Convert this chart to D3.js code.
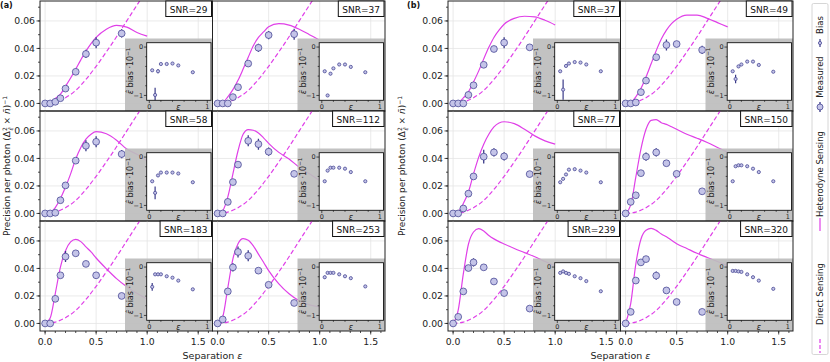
<!DOCTYPE html>
<html>
<head>
<meta charset="utf-8">
<script src="https://cdn.jsdelivr.net/npm/d3@7"></script>
<style>
body { margin: 0; background: #fff; }
svg { font-family: "DejaVu Sans", sans-serif; }
</style>
</head>
<body>
<svg id="chart" width="830" height="362"></svg>
<script>
// separations where things were measured / computed
const epsMeas = [0, 0.05, 0.1, 0.15, 0.2, 0.3, 0.4, 0.5, 0.75];
const epsBias = [0.05, 0.1, 0.15, 0.2, 0.3, 0.4, 0.5, 0.75];
const epsCurve = [0, 0.05, 0.1, 0.15, 0.2, 0.25, 0.3, 0.35, 0.4, 0.45, 0.5, 0.6, 0.7, 0.8, 0.9, 1.0];
const epsDirect = [0, 0.1, 0.2, 0.3, 0.4, 0.5, 0.6, 0.7, 0.8, 0.9, 1.0];

// direct sensing bound (same in every subplot)
const directSensing = [0, 0.001, 0.0042, 0.0095, 0.0175, 0.027, 0.0375, 0.0485, 0.06, 0.0715, 0.083];

// panel (a)
const snrA = [29, 37, 58, 112, 183, 253];
const hetA = [
    [0, 0.0005, 0.0036, 0.0067, 0.0125, 0.0185, 0.025, 0.0317, 0.038, 0.0435, 0.048, 0.054, 0.0568, 0.0555, 0.0516, 0.049],
    [0, 0.0007, 0.0048, 0.010, 0.0168, 0.025, 0.0336, 0.042, 0.048, 0.052, 0.0557, 0.058, 0.057, 0.054, 0.050, 0.046],
    [0, 0.0008, 0.0043, 0.0108, 0.0192, 0.0288, 0.0396, 0.048, 0.054, 0.0576, 0.0595, 0.058, 0.0533, 0.0468, 0.043, 0.038],
    [0, 0.002, 0.012, 0.0288, 0.0456, 0.0576, 0.061, 0.0605, 0.0585, 0.055, 0.051, 0.0444, 0.0396, 0.0336, 0.0288, 0.024],
    [0, 0.004, 0.0219, 0.041, 0.0529, 0.0593, 0.0612, 0.0595, 0.0557, 0.052, 0.0476, 0.0398, 0.0326, 0.0267, 0.0219, 0.0176],
    [0, 0.0048, 0.026, 0.047, 0.058, 0.0617, 0.0605, 0.0564, 0.0504, 0.0445, 0.0384, 0.0288, 0.0216, 0.0165, 0.0135, 0.012]
];
const measA = [
    [0, 0, 0.0012, 0.0038, 0.0108, 0.023, 0.036, 0.0442, 0.0509],
    [0, 0, 0, 0.0046, 0.0118, 0.029, 0.0405, 0.0497, 0.0504],
    [0, 0, 0.0005, 0.0096, 0.0204, 0.0384, 0.0492, 0.0521, 0.0432],
    [0, 0, 0.0084, 0.0228, 0.0355, 0.0528, 0.0504, 0.0449, 0.0288],
    [0, 0, 0.0179, 0.035, 0.0486, 0.051, 0.0433, 0.035, 0.02],
    [0, 0.0029, 0.0233, 0.0408, 0.052, 0.0492, 0.0384, 0.0281, 0.0149]
];
const measErrA = [
    [0, 0, 0.0005, 0.0008, 0.001, 0.001, 0.003, 0.004, 0.003],
    [0, 0, 0, 0.001, 0.001, 0.002, 0.003, 0.003, 0.004],
    [0, 0, 0, 0.001, 0.001, 0.001, 0.004, 0.004, 0.003],
    [0, 0, 0.001, 0.001, 0.002, 0.004, 0.004, 0.003, 0.001],
    [0, 0, 0.001, 0.002, 0.004, 0.002, 0.001, 0.002, 0.001],
    [0, 0.001, 0.001, 0.003, 0.004, 0.004, 0.001, 0.001, 0.001]
];
const biasA = [
    [-0.48, -0.99, -0.50, -0.35, -0.35, -0.34, -0.38, -0.52],
    [-0.50, -1.0, -0.55, -0.44, -0.36, -0.36, -0.41, -0.52],
    [-0.50, -0.74, -0.38, -0.32, -0.32, -0.32, -0.34, -0.52],
    [-0.50, -0.28, -0.22, -0.22, -0.22, -0.24, -0.31, -0.50],
    [-0.41, -0.15, -0.15, -0.15, -0.19, -0.22, -0.28, -0.46],
    [-0.21, -0.12, -0.12, -0.12, -0.15, -0.19, -0.23, -0.40]
];
const biasErrA = [
    [0.02, 0.15, 0.04, 0.02, 0.02, 0.02, 0.02, 0.02],
    [0.02, 0.03, 0.03, 0.02, 0.02, 0.02, 0.02, 0.02],
    [0.02, 0.13, 0.02, 0.02, 0.02, 0.02, 0.02, 0.02],
    [0.02, 0.02, 0.02, 0.02, 0.02, 0.02, 0.02, 0.02],
    [0.08, 0.02, 0.02, 0.02, 0.02, 0.02, 0.02, 0.02],
    [0.03, 0.02, 0.02, 0.02, 0.02, 0.02, 0.02, 0.02]
];

// panel (b)
const snrB = [37, 49, 77, 150, 239, 320];
const hetB = [
    [0, 0.0005, 0.004, 0.0084, 0.0156, 0.0235, 0.0324, 0.0408, 0.048, 0.0533, 0.0576, 0.0619, 0.0634, 0.0629, 0.0605, 0.0571],
    [0, 0.0007, 0.0048, 0.0108, 0.0192, 0.0288, 0.0384, 0.0468, 0.0533, 0.058, 0.0612, 0.0643, 0.0643, 0.0619, 0.0588, 0.0557],
    [0, 0.0012, 0.0072, 0.0156, 0.0288, 0.0408, 0.0504, 0.0576, 0.0629, 0.0658, 0.0667, 0.0653, 0.0612, 0.0564, 0.0528, 0.0504],
    [0, 0.006, 0.0264, 0.0468, 0.0612, 0.0677, 0.0682, 0.066, 0.0648, 0.063, 0.0612, 0.0576, 0.0547, 0.0516, 0.048, 0.0444],
    [0, 0.0096, 0.036, 0.0576, 0.0665, 0.0689, 0.0672, 0.064, 0.0615, 0.0595, 0.0578, 0.0545, 0.0515, 0.0485, 0.045, 0.0418],
    [0, 0.0144, 0.0432, 0.0612, 0.0677, 0.0691, 0.0677, 0.065, 0.063, 0.0605, 0.058, 0.0545, 0.051, 0.048, 0.045, 0.042]
];
const measB = [
    [0, 0, 0, 0.0062, 0.0132, 0.0281, 0.0396, 0.0442, 0.0408],
    [0, 0, 0.0007, 0.0082, 0.0166, 0.0336, 0.0425, 0.0432, 0.0389],
    [0, 0, 0.0036, 0.0144, 0.0269, 0.0413, 0.0444, 0.0415, 0.0286],
    [0, 0.0084, 0.0132, 0.0293, 0.0413, 0.0444, 0.0365, 0.0288, 0.0161],
    [0, 0.0048, 0.0233, 0.0403, 0.0444, 0.0408, 0.0305, 0.0221, 0.0108],
    [0, 0.0084, 0.0312, 0.0444, 0.0468, 0.0348, 0.024, 0.0156, 0.0084]
];
const measErrB = [
    [0, 0, 0, 0.001, 0.001, 0.001, 0.002, 0.004, 0.001],
    [0, 0, 0, 0.001, 0.001, 0.001, 0.004, 0.001, 0.003],
    [0, 0, 0.001, 0.001, 0.001, 0.005, 0.003, 0.003, 0.001],
    [0, 0.001, 0.001, 0.001, 0.003, 0.003, 0.001, 0.001, 0.001],
    [0, 0.001, 0.001, 0.001, 0.003, 0.002, 0.001, 0.001, 0.001],
    [0, 0.001, 0.001, 0.001, 0.001, 0.003, 0.001, 0.001, 0.001]
];
const biasB = [
    [-0.50, -0.88, -0.39, -0.34, -0.31, -0.32, -0.36, -0.50],
    [-0.50, -0.66, -0.40, -0.36, -0.30, -0.30, -0.37, -0.51],
    [-0.52, -0.45, -0.36, -0.26, -0.25, -0.28, -0.32, -0.52],
    [-0.50, -0.19, -0.17, -0.17, -0.19, -0.24, -0.31, -0.50],
    [-0.12, -0.09, -0.12, -0.14, -0.19, -0.23, -0.29, -0.50],
    [-0.08, -0.08, -0.09, -0.10, -0.15, -0.21, -0.28, -0.45]
];
const biasErrB = [
    [0.02, 0.21, 0.02, 0.02, 0.02, 0.02, 0.02, 0.02],
    [0.02, 0.09, 0.03, 0.02, 0.02, 0.02, 0.02, 0.02],
    [0.02, 0.02, 0.02, 0.02, 0.02, 0.02, 0.02, 0.02],
    [0.02, 0.02, 0.02, 0.02, 0.02, 0.02, 0.02, 0.02],
    [0.02, 0.02, 0.02, 0.02, 0.02, 0.02, 0.02, 0.02],
    [0.02, 0.02, 0.02, 0.02, 0.02, 0.02, 0.02, 0.02]
];

const xTicks = [0, 0.5, 1.0, 1.5];
const yTicks = [0, 0.02, 0.04, 0.06];

const MAGENTA = '#e040e8';
const MARK_FILL = '#c4c4e8';
const MARK_STROKE = '#4a4a96';
const ERR = '#3a3a88';
const SPINE = '#222';

const svg = d3.select('#chart');
const colW = 172.5;
const rowH = 110;
const top0 = 1;

const panels = [
    {left: 40, tag: '(a)', tagX: 0, yLabX: 10, snr: snrA, het: hetA, meas: measA, measErr: measErrA, bias: biasA, biasErr: biasErrA},
    {left: 448, tag: '(b)', tagX: 407, yLabX: 405, snr: snrB, het: hetB, meas: measB, measErr: measErrB, bias: biasB, biasErr: biasErrB}
];

let clipId = 0;

function drawSubplot(p, i) {
    const r = Math.floor(i / 2);
    const c = i % 2;
    const x0 = p.left + c * colW;
    const y0 = top0 + r * rowH;

    const x = d3.scaleLinear().domain([-0.05, 1.64]).range([x0, x0 + colW]);
    const y = d3.scaleLinear().domain([-0.0055, 0.0745]).range([y0 + rowH, y0]);

    const g = svg.append('g');
    const cid = 'clip' + (clipId++);
    g.append('clipPath').attr('id', cid)
        .append('rect').attr('x', x0).attr('y', y0).attr('width', colW).attr('height', rowH);
    const inner = g.append('g').attr('clip-path', `url(#${cid})`);

    // grid
    inner.selectAll('.gx').data(xTicks).enter().append('line')
        .attr('x1', d => x(d)).attr('x2', d => x(d))
        .attr('y1', y0).attr('y2', y0 + rowH)
        .attr('stroke', '#e4e4e4').attr('stroke-width', 0.8);
    inner.selectAll('.gy').data(yTicks).enter().append('line')
        .attr('x1', x0).attr('x2', x0 + colW)
        .attr('y1', d => y(d)).attr('y2', d => y(d))
        .attr('stroke', '#e4e4e4').attr('stroke-width', 0.8);

    // curves
    const line = d3.line().x(d => x(d[0])).y(d => y(d[1])).curve(d3.curveMonotoneX);
    inner.append('path')
        .attr('d', line(d3.zip(epsDirect, directSensing)))
        .attr('fill', 'none').attr('stroke', MAGENTA).attr('stroke-width', 1.2)
        .attr('stroke-dasharray', '4.5,2.5');
    inner.append('path')
        .attr('d', line(d3.zip(epsCurve, p.het[i])))
        .attr('fill', 'none').attr('stroke', MAGENTA).attr('stroke-width', 1.2);

    // measured points with errors
    const pts = epsMeas.map((e, k) => ({e, v: p.meas[i][k], s: p.measErr[i][k]}));
    inner.selectAll('.err').data(pts).enter().append('line')
        .attr('x1', d => x(d.e)).attr('x2', d => x(d.e))
        .attr('y1', d => y(d.v - d.s)).attr('y2', d => y(d.v + d.s))
        .attr('stroke', ERR).attr('stroke-width', 1.3);
    inner.selectAll('.pt').data(pts).enter().append('circle')
        .attr('cx', d => x(d.e)).attr('cy', d => y(d.v)).attr('r', 3.4)
        .attr('fill', MARK_FILL).attr('stroke', MARK_STROKE).attr('stroke-width', 0.8);

    // inset background
    g.append('rect')
        .attr('x', x0 + 85).attr('y', y0 + 37.5)
        .attr('width', colW - 85).attr('height', rowH - 37.5)
        .attr('fill', '#bdbdbd').attr('fill-opacity', 0.92);

    drawInset(g, x0, y0, p.bias[i], p.biasErr[i]);

    // spines
    g.append('rect').attr('x', x0).attr('y', y0).attr('width', colW).attr('height', rowH)
        .attr('fill', 'none').attr('stroke', SPINE).attr('stroke-width', 1);

    // SNR box
    const bt = g.append('text').text('SNR=' + p.snr[i])
        .attr('font-size', 9).attr('text-anchor', 'end')
        .attr('x', x0 + colW - 5).attr('y', y0 + 11.5).attr('fill', '#111');
    const tw = bt.node().getComputedTextLength();
    g.append('rect')
        .attr('x', x0 + colW - 9 - tw).attr('y', y0)
        .attr('width', tw + 8).attr('height', 15.5)
        .attr('fill', '#fff').attr('stroke', '#111').attr('stroke-width', 1);
    bt.raise();

    // left axis
    if (c === 0) {
        const minor = d3.range(0, 0.0745, 0.01);
        g.selectAll('.ym').data(minor).enter().append('line')
            .attr('x1', x0 - 2).attr('x2', x0)
            .attr('y1', d => y(d)).attr('y2', d => y(d))
            .attr('stroke', SPINE).attr('stroke-width', 0.8);
        g.selectAll('.yt').data(yTicks).enter().append('line')
            .attr('x1', x0 - 3.5).attr('x2', x0)
            .attr('y1', d => y(d)).attr('y2', d => y(d))
            .attr('stroke', SPINE).attr('stroke-width', 0.8);
        g.selectAll('.yl').data(yTicks).enter().append('text')
            .attr('x', x0 - 5).attr('y', d => y(d) + 3.3)
            .attr('text-anchor', 'end').attr('font-size', 9.3).attr('fill', '#222')
            .text(d => d3.format('.2f')(d));
    }
    // bottom axis
    if (r === 2) {
        const minor = d3.range(0, 1.64, 0.1);
        g.selectAll('.xm').data(minor).enter().append('line')
            .attr('x1', d => x(d)).attr('x2', d => x(d))
            .attr('y1', y0 + rowH).attr('y2', y0 + rowH + 2)
            .attr('stroke', SPINE).attr('stroke-width', 0.8);
        g.selectAll('.xt').data(xTicks).enter().append('line')
            .attr('x1', d => x(d)).attr('x2', d => x(d))
            .attr('y1', y0 + rowH).attr('y2', y0 + rowH + 3.5)
            .attr('stroke', SPINE).attr('stroke-width', 0.8);
        g.selectAll('.xl').data(xTicks).enter().append('text')
            .attr('x', d => x(d)).attr('y', y0 + rowH + 14)
            .attr('text-anchor', 'middle').attr('font-size', 9.3).attr('fill', '#222')
            .text(d => d3.format('.1f')(d));
    }
}

function drawInset(g, x0, y0, bias, biasErr) {
    const ix = d3.scaleLinear().domain([-0.045, 1.064]).range([x0 + 106.7, x0 + 171]);
    const iy = d3.scaleLinear().domain([-1.1, 0.09]).range([y0 + 99.3, y0 + 41.7]);
    const [xa, xb] = ix.range();
    const [yb, ya] = iy.range();

    g.append('rect').attr('x', xa).attr('y', ya).attr('width', xb - xa).attr('height', yb - ya)
        .attr('fill', '#fff');

    const pts = epsBias.map((e, k) => ({e, v: bias[k], s: biasErr[k]}));
    g.selectAll('.berr').data(pts).enter().append('line')
        .attr('x1', d => ix(d.e)).attr('x2', d => ix(d.e))
        .attr('y1', d => iy(Math.max(d.v - d.s, -1.1))).attr('y2', d => iy(d.v + d.s))
        .attr('stroke', ERR).attr('stroke-width', 1.2);
    g.selectAll('.bpt').data(pts).enter().append('circle')
        .attr('cx', d => ix(d.e)).attr('cy', d => iy(d.v)).attr('r', 1.6)
        .attr('fill', MARK_FILL).attr('stroke', MARK_STROKE).attr('stroke-width', 0.8);

    g.append('rect').attr('x', xa).attr('y', ya).attr('width', xb - xa).attr('height', yb - ya)
        .attr('fill', 'none').attr('stroke', '#111').attr('stroke-width', 0.9);

    // inset ticks
    const xMinor = [0.2, 0.4, 0.6, 0.8];
    const yMinor = [-0.2, -0.4, -0.6, -0.8];
    g.selectAll('.ixm').data(xMinor).enter().append('line')
        .attr('x1', d => ix(d)).attr('x2', d => ix(d)).attr('y1', yb).attr('y2', yb + 1.5)
        .attr('stroke', '#111').attr('stroke-width', 0.7);
    g.selectAll('.ixt').data([0, 1]).enter().append('line')
        .attr('x1', d => ix(d)).attr('x2', d => ix(d)).attr('y1', yb).attr('y2', yb + 2.8)
        .attr('stroke', '#111').attr('stroke-width', 0.7);
    g.selectAll('.iym').data(yMinor).enter().append('line')
        .attr('x1', xa - 1.5).attr('x2', xa).attr('y1', d => iy(d)).attr('y2', d => iy(d))
        .attr('stroke', '#111').attr('stroke-width', 0.7);
    g.selectAll('.iyt').data([0, -1]).enter().append('line')
        .attr('x1', xa - 2.8).attr('x2', xa).attr('y1', d => iy(d)).attr('y2', d => iy(d))
        .attr('stroke', '#111').attr('stroke-width', 0.7);

    g.selectAll('.ixl').data([0, 1]).enter().append('text')
        .attr('x', d => ix(d)).attr('y', yb + 8.5)
        .attr('text-anchor', 'middle').attr('font-size', 6.5).attr('fill', '#222')
        .text(d => d);
    g.append('text').attr('x', ix(0.5)).attr('y', yb + 9.5)
        .attr('text-anchor', 'middle').attr('font-size', 8).attr('font-style', 'italic')
        .attr('fill', '#222').text('ε');
    g.selectAll('.iyl').data([0, -1]).enter().append('text')
        .attr('x', xa - 3.5).attr('y', d => iy(d) + 2.3)
        .attr('text-anchor', 'end').attr('font-size', 6.5).attr('fill', '#222')
        .text(d => d === 0 ? '0' : '\u22121');

    const lab = g.append('text')
        .attr('transform', `translate(${x0 + 93},${y0 + 70}) rotate(-90)`)
        .attr('text-anchor', 'middle').attr('font-size', 8).attr('fill', '#222');
    lab.append('tspan').attr('font-style', 'italic').text('\u03b5\u0302');
    lab.append('tspan').text(' bias \u00b710');
    lab.append('tspan').attr('font-size', 5.5).attr('dy', -3.5).text('\u22121');
}

panels.forEach(p => {
    for (let i = 0; i < 6; i++) drawSubplot(p, i);

    svg.append('text').attr('x', p.tagX).attr('y', 8)
        .attr('font-size', 8).attr('font-weight', 'bold').attr('fill', '#111').text(p.tag);

    const xl = svg.append('text')
        .attr('x', p.left + colW).attr('y', 359)
        .attr('text-anchor', 'middle').attr('font-size', 9.5).attr('fill', '#222');
    xl.append('tspan').text('Separation ');
    xl.append('tspan').attr('font-style', 'italic').text('\u03b5');

    const yl = svg.append('text')
        .attr('transform', `translate(${p.yLabX},${top0 + 1.5 * rowH}) rotate(-90)`)
        .attr('text-anchor', 'middle').attr('font-size', 9).attr('fill', '#222');
    yl.append('tspan').text('Precision per photon (\u0394');
    yl.append('tspan').attr('font-size', 6).attr('dy', -3.5).text('2');
    yl.append('tspan').attr('font-size', 6).attr('font-style', 'italic').attr('dx', -3.4).attr('dy', 6).text('\u03b5\u0302');
    yl.append('tspan').attr('dy', -2.5).text(' \u00d7 ');
    yl.append('tspan').attr('font-style', 'italic').text('n\u0304');
    yl.append('tspan').text(')');
    yl.append('tspan').attr('font-size', 6).attr('dy', -3.5).text('\u22121');
});

// vertical legend on the right
const leg = svg.append('g');
leg.append('rect').attr('x', 812).attr('y', 3.5).attr('width', 16).attr('height', 351)
    .attr('fill', '#fff').attr('stroke', '#ccc').attr('stroke-width', 0.8).attr('rx', 1.5);
const lx = 820;
const legItems = [
    {label: 'Bias', y: 25},
    {label: 'Measured', y: 77},
    {label: 'Heterodyne Sensing', y: 174},
    {label: 'Direct Sensing', y: 294}
];
leg.selectAll('.lt').data(legItems).enter().append('text')
    .attr('transform', d => `translate(${lx + 3},${d.y}) rotate(-90)`)
    .attr('text-anchor', 'middle').attr('font-size', 8.5).attr('fill', '#222')
    .text(d => d.label);
// glyphs
leg.append('line').attr('x1', lx).attr('x2', lx).attr('y1', 39).attr('y2', 47)
    .attr('stroke', ERR).attr('stroke-width', 1.2);
leg.append('circle').attr('cx', lx).attr('cy', 43).attr('r', 1.6)
    .attr('fill', MARK_FILL).attr('stroke', MARK_STROKE).attr('stroke-width', 0.8);
leg.append('line').attr('x1', lx).attr('x2', lx).attr('y1', 102).attr('y2', 112)
    .attr('stroke', ERR).attr('stroke-width', 1.3);
leg.append('circle').attr('cx', lx).attr('cy', 107).attr('r', 3)
    .attr('fill', MARK_FILL).attr('stroke', MARK_STROKE).attr('stroke-width', 0.8);
leg.append('line').attr('x1', lx).attr('x2', lx).attr('y1', 218).attr('y2', 231)
    .attr('stroke', MAGENTA).attr('stroke-width', 1.2);
leg.append('line').attr('x1', lx).attr('x2', lx).attr('y1', 339).attr('y2', 353)
    .attr('stroke', MAGENTA).attr('stroke-width', 1.2).attr('stroke-dasharray', '4,2');
</script>
</body>
</html>
